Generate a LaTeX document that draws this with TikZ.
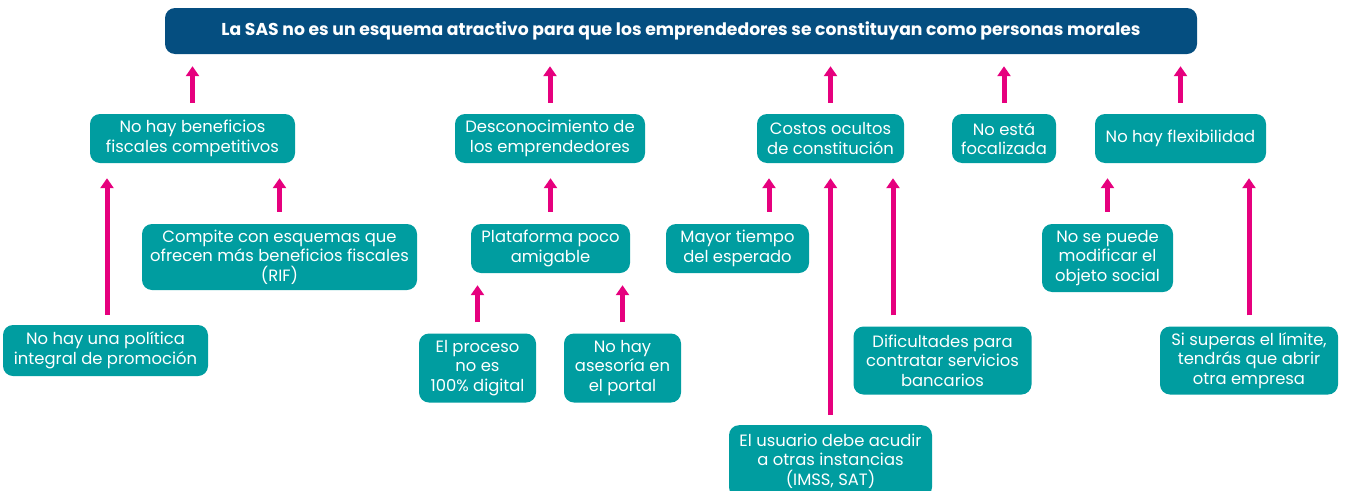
\documentclass[tikz,border=0pt]{standalone}
\usepackage{fontspec}
\setmainfont{Poppins}
\usetikzlibrary{arrows.meta}
\definecolor{titleblue}{RGB}{5,78,128}
\definecolor{teal}{RGB}{0,157,160}
\definecolor{mag}{RGB}{230,0,126}
\begin{document}
\begin{tikzpicture}[x=1pt,y=-1pt,
  box/.style={fill=teal,rounded corners=10pt,text=white,align=center,inner sep=0pt,
    font=\fontsize{16.4}{19.5}\selectfont},
  titlebox/.style={fill=titleblue,rounded corners=10pt,text=white,inner sep=0pt,
    font=\fontsize{17.2}{20}\selectfont\bfseries},
  arr/.style={draw=mag,line width=5pt,-{Triangle[width=13pt,length=10pt]}}]
\useasboundingbox (0,0) rectangle (1346,490);
% title
\node[titlebox,minimum width=1032pt,minimum height=46pt] (t) at (681,31)
  {La SAS no es un esquema atractivo para que los emprendedores se constituyan como personas morales};
% level 1
\node[box,minimum width=205pt,minimum height=49pt] (a1) at (192.5,138.5) {No hay beneficios\\fiscales competitivos};
\node[box,minimum width=190pt,minimum height=49pt] (a2) at (550,138.5) {Desconocimiento de\\los emprendedores};
\node[box,minimum width=147pt,minimum height=49pt] (a3) at (830.5,138.5) {Costos ocultos\\de constitución};
\node[box,minimum width=104pt,minimum height=49pt] (a4) at (1004,138.5) {No está\\focalizada};
\node[box,minimum width=171pt,minimum height=49pt] (a5) at (1180.5,138.5) {No hay flexibilidad};
% level 2
\node[box,minimum width=275pt,minimum height=66pt] (b1) at (279.5,257) {Compite con esquemas que\\ofrecen más beneficios fiscales\\(RIF)};
\node[box,minimum width=159pt,minimum height=49pt] (b2) at (550.5,248.5) {Plataforma poco\\amigable};
\node[box,minimum width=143pt,minimum height=49pt] (b3) at (737.5,248.5) {Mayor tiempo\\del esperado};
\node[box,minimum width=131pt,minimum height=68pt] (b4) at (1107.5,258) {No se puede\\modificar el\\objeto social};
% level 3
\node[box,minimum width=205pt,minimum height=51pt] (c1) at (105.5,350.5) {No hay una política\\integral de promoción};
\node[box,minimum width=117pt,minimum height=69pt] (c2) at (477.5,368) {El proceso\\no es\\100\% digital};
\node[box,minimum width=117pt,minimum height=69pt] (c3) at (622.5,368) {No hay\\asesoría en\\el portal};
\node[box,minimum width=178pt,minimum height=68pt] (c4) at (942.5,360.5) {Dificultades para\\contratar servicios\\bancarios};
\node[box,minimum width=178pt,minimum height=68pt] (c5) at (1249,360.5) {Si superas el límite,\\tendrás que abrir\\otra empresa};
\node[box,minimum width=203pt,minimum height=72pt,anchor=north] (c6) at (830.5,425) {El usuario debe acudir\\a otras instancias\\(IMSS, SAT)};
% arrows level 1 -> title
\foreach \n in {a1,a2,a3,a4,a5}
  \draw[arr,shorten <=11pt,shorten >=12pt] (\n.north) -- (\n.north |- t.south);
% level 2 -> level 1
\draw[arr,shorten <=12pt,shorten >=15pt] (b1.north) -- (b1.north |- a1.south);
\draw[arr,shorten <=10pt,shorten >=15pt] (c1.north -| 107,0) -- (a1.south -| 107,0);
\draw[arr,shorten <=12pt,shorten >=15pt] (b2.north) -- (b2.north |- a2.south);
\draw[arr,shorten <=12pt,shorten >=15pt] (b3.north -| 769,0) -- (a3.south -| 769,0);
\draw[arr,shorten <=10pt,shorten >=15pt] (c6.north) -- (c6.north |- a3.south);
\draw[arr,shorten <=11pt,shorten >=15pt] (c4.north -| 893,0) -- (a3.south -| 893,0);
\draw[arr,shorten <=12pt,shorten >=15pt] (b4.north) -- (b4.north |- a5.south);
\draw[arr,shorten <=11pt,shorten >=15pt] (c5.north) -- (c5.north |- a5.south);
% level 3 -> level 2
\draw[arr,shorten <=11pt,shorten >=12pt] (c2.north) -- (c2.north |- b2.south);
\draw[arr,shorten <=11pt,shorten >=12pt] (c3.north) -- (c3.north |- b2.south);
\end{tikzpicture}
\end{document}
